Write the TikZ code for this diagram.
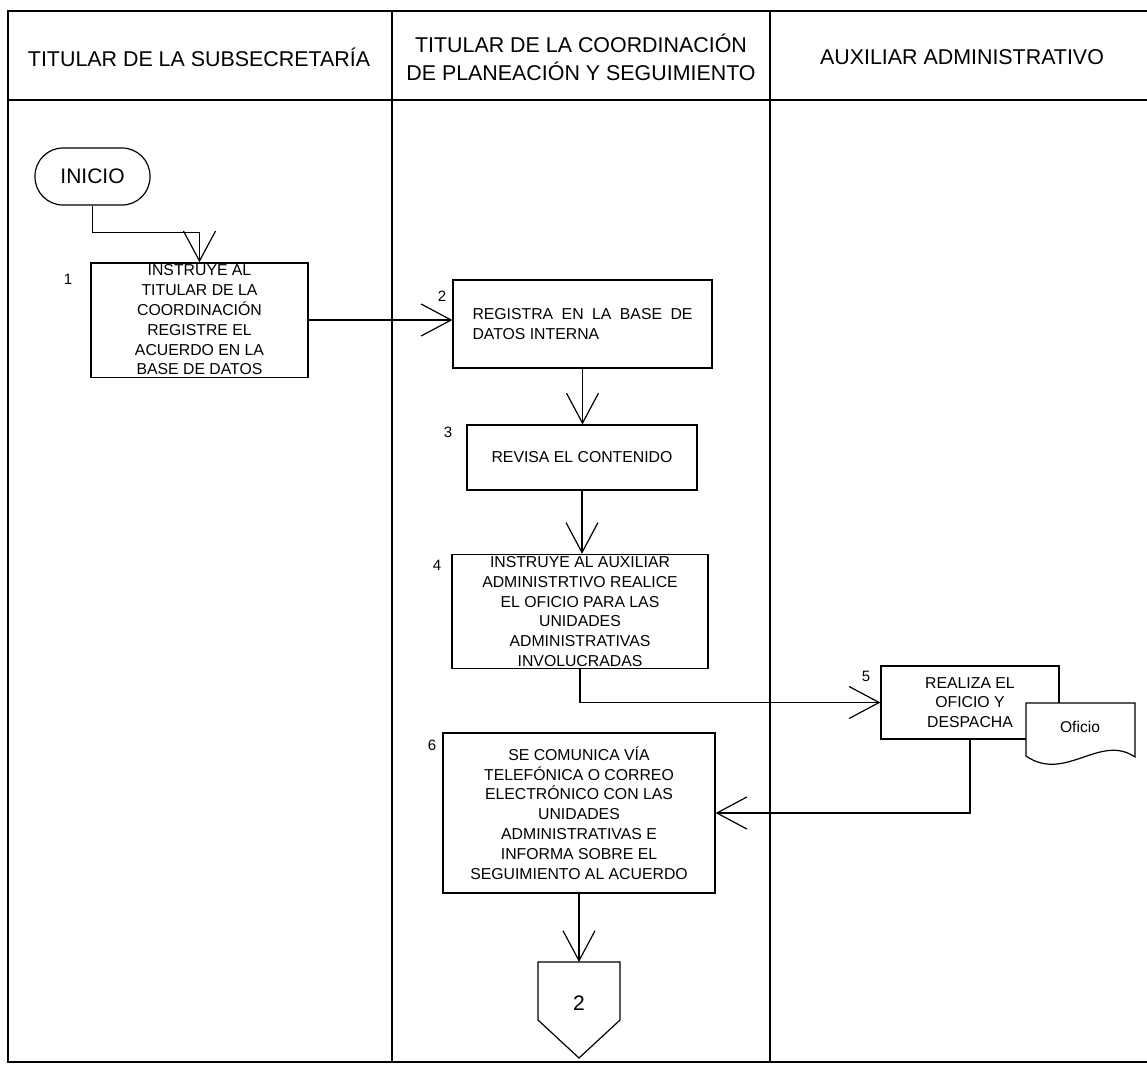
\documentclass[tikz,border=0pt]{standalone}
\usepackage{fontspec}
\setmainfont{Liberation Sans}
\usetikzlibrary{positioning,arrows.meta}

\begin{document}
\begin{tikzpicture}[x=0.5pt, y=-0.5pt,
    lane/.style={font=\fontsize{10.7}{14}\selectfont, align=center},
    task/.style={rectangle, draw, line width=0.6pt, fill=white, inner sep=1pt, align=center, font=\fontsize{7.9}{9.9}\selectfont},
    stepnum/.style={font=\fontsize{7.5}{9}\selectfont, inner sep=0pt},
    terminal/.style={rectangle, draw, line width=0.6pt, rounded corners=14pt, minimum width=57.5pt, minimum height=28.5pt, font=\fontsize{10.5}{12}\selectfont},
    arrow/.style={-{Straight Barb[length=15pt, width=16pt]}, line width=0.6pt}]

\useasboundingbox (0,0) rectangle (1147,1067);

% Frame and lanes
\draw[line width=0.8pt] (1147,11) -- (8,11) -- (8,1062) -- (1147,1062);
\draw[line width=0.8pt] (8,100) -- (1147,100);
\draw[line width=0.6pt] (392,11) -- (392,1062);
\draw[line width=0.6pt] (770,11) -- (770,1062);

\node[lane] (head1) at (199,57) {TITULAR DE LA SUBSECRETARÍA};
\node[lane] (head2) at (581,57) {TITULAR DE LA COORDINACIÓN\\DE PLANEACIÓN Y SEGUIMIENTO};
\node[lane] (head3) at (962,57) {AUXILIAR ADMINISTRATIVO};

% Subsecretaria
\node[terminal] (inicio) at (92.5,176.5) {INICIO};
\node[task, minimum width=108.5pt, minimum height=57pt] (b1) at (199.5,320)
    {INSTRUYE AL\\TITULAR DE LA\\COORDINACIÓN\\REGISTRE EL\\ACUERDO EN LA\\BASE DE DATOS};
\node[stepnum] (n1) at (68,279) {1};

% Coordinacion
\node[task, minimum width=129.5pt, minimum height=44pt, align=justify, text width=110pt] (b2) at (582.5,324)
    {REGISTRA EN LA BASE DE DATOS INTERNA};
\node[task, minimum width=115pt, minimum height=32.5pt] (b3) at (582,457.5) {REVISA EL CONTENIDO};
\node[task, minimum width=128pt, minimum height=53.5pt] (b4) at (580,611.5)
    {INSTRUYE AL AUXILIAR\\ADMINISTRTIVO REALICE\\EL OFICIO PARA LAS\\UNIDADES\\ADMINISTRATIVAS\\INVOLUCRADAS};
\node[task, minimum width=136pt, minimum height=80pt] (b6) at (579,813)
    {SE COMUNICA VÍA\\TELEFÓNICA O CORREO\\ELECTRÓNICO CON LAS\\UNIDADES\\ADMINISTRATIVAS E\\INFORMA SOBRE EL\\SEGUIMIENTO AL ACUERDO};
\node[stepnum] (n2) at (442,296) {2};
\node[stepnum] (n3) at (448,432) {3};
\node[stepnum] (n4) at (437,565) {4};
\node[stepnum] (n6) at (432,745) {6};

% Auxiliar
\node[task, minimum width=89pt, minimum height=36.5pt] (b5) at (970,702.5) {REALIZA EL\\OFICIO Y\\DESPACHA};
\node[stepnum] (n5) at (866,676) {5};
\draw[line width=0.6pt, fill=white] (1026,703) -- (1135,703) -- (1135,757)
    .. controls (1100,733) and (1065,783) .. (1026,756) -- cycle;
\node[font=\fontsize{7.8}{9}\selectfont] (doc) at (1080,727) {Oficio};

% Off-page connector
\coordinate (pentop) at (579,962);
\draw[line width=0.6pt] (pentop) ++(-41,0) -- ++(82,0) -- ++(0,58) -- (579,1058) -- (538,1020) -- cycle;
\node[font=\fontsize{10.5}{12}\selectfont] (pent) at (579,1003) {2};

% Flow
\draw[arrow] (inicio.south) -- ++(0,27) -| (b1.north);
\draw[arrow] (b1.east) -- (b1.east -| b2.west);
\draw[arrow] (b2.south) -- (b2.south |- b3.north);
\draw[arrow] (b3.south) -- (b3.south |- b4.north);
\draw[arrow] (b4.south) |- (b5.west);
\draw[arrow] (b5.south) |- (b6.east);
\draw[arrow] (b6.south) -- (b6.south |- pentop);

\end{tikzpicture}
\end{document}
